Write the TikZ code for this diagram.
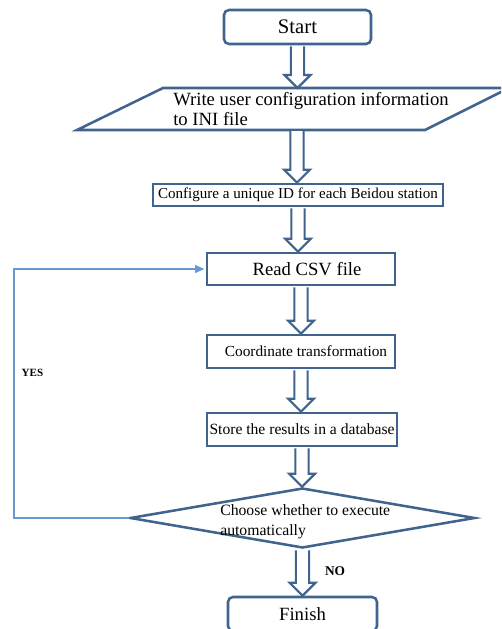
\documentclass[tikz,border=0pt]{standalone}
\usepackage{fontspec}
\setmainfont{Liberation Serif}
\usetikzlibrary{shapes.geometric,calc,arrows.meta}
\definecolor{boxblue}{HTML}{41648F}
\definecolor{fbblue}{HTML}{6A98D4}
\tikzset{
  boxline/.style={draw=boxblue, line width=1.9pt, fill=white},
  stepbox/.style={boxline, rectangle, inner sep=0pt, align=center},
  roundbox/.style={stepbox, rounded corners=3.75pt},
  harrow/.style={draw=boxblue, line width=1.6pt, fill=white, line join=miter},
  fb/.style={draw=fbblue, line width=0.8pt},
  plaintext/.style={inner sep=0pt, align=left},
}
\newcommand{\hollowarrow}[2]{%
  \draw[harrow] let \p1=(#1), \p2=(#2) in
    (\x1-5pt,\y1-0.8pt) -- (\x1-5pt,\y2+9.75pt) -- (\x1-9.75pt,\y2+9.75pt)
    -- (\x1,\y2) -- (\x1+9.75pt,\y2+9.75pt) -- (\x1+5pt,\y2+9.75pt)
    -- (\x1+5pt,\y1-0.8pt);}
\begin{document}
\begin{tikzpicture}[x=0.75pt,y=-0.75pt]
\useasboundingbox (0,0) rectangle (501,629);
\clip (0,0) rectangle (501,629);

% Start
\node[roundbox, minimum width=110.25pt, minimum height=25.5pt,
      font=\fontsize{15.5pt}{18pt}\selectfont] (start) at (297.5,27) {Start};

% Parallelogram (input)
\draw[boxline] (163,88) -- (509,88) -- (425,130) -- (77,130) -- cycle;
\node[plaintext, anchor=north west, font=\fontsize{14pt}{15pt}\selectfont]
  (write) at (173,92) {Write user configuration information\\to INI file};
\coordinate (wtop) at (297,88);
\coordinate (wbot) at (297,130);

% Configure
\node[stepbox, minimum width=217.5pt, minimum height=16.5pt,
      font=\fontsize{11.3pt}{13pt}\selectfont] (config) at (298,195)
      {Configure a unique ID for each Beidou station};

% Read CSV
\node[stepbox, minimum width=141pt, minimum height=24pt,
      font=\fontsize{14pt}{16pt}\selectfont] (read) at (301,269)
      {\hspace*{9pt}Read CSV file};

% Coordinate transformation
\node[stepbox, minimum width=141pt, minimum height=24.75pt,
      font=\fontsize{11.5pt}{13pt}\selectfont] (coord) at (301,351.5)
      {\hspace*{7.5pt}Coordinate transformation};

% Store
\node[stepbox, minimum width=142.5pt, minimum height=24.75pt,
      font=\fontsize{11.7pt}{13pt}\selectfont] (store) at (302,429.5)
      {Store the results in a database};

% Decision
\node[diamond, draw=boxblue, line width=1.9pt, fill=white, inner sep=0pt,
      minimum width=258.75pt, minimum height=45pt] (choose) at (302.5,518) {};
\node[plaintext, anchor=north west, font=\fontsize{11.8pt}{15pt}\selectfont]
  (choosetext) at (220,504.5) {Choose whether to execute\\automatically};

% Finish
\node[roundbox, minimum width=111.75pt, minimum height=25.5pt,
      font=\fontsize{14pt}{16pt}\selectfont] (finish) at (302.5,614) {Finish};

% Hollow arrows
\hollowarrow{start.south}{wtop}
\hollowarrow{wbot}{config.north}
\hollowarrow{config.south}{read.north}
\hollowarrow{read.south}{coord.north}
\hollowarrow{coord.south}{store.north}
\hollowarrow{store.south}{choose.north}
\hollowarrow{choose.south}{finish.north}

% Feedback loop
\draw[fb, -{Triangle[length=7pt,width=6pt]}, shorten >=1pt]
  (choose.west) -- (14,518) |- (read.west);

% Labels
\node[inner sep=0pt, font=\bfseries\fontsize{8.3pt}{10pt}\selectfont] (yes) at (32.5,373) {YES};
\node[inner sep=0pt, font=\bfseries\fontsize{10pt}{12pt}\selectfont] (no) at (335,571) {NO};
\end{tikzpicture}
\end{document}
